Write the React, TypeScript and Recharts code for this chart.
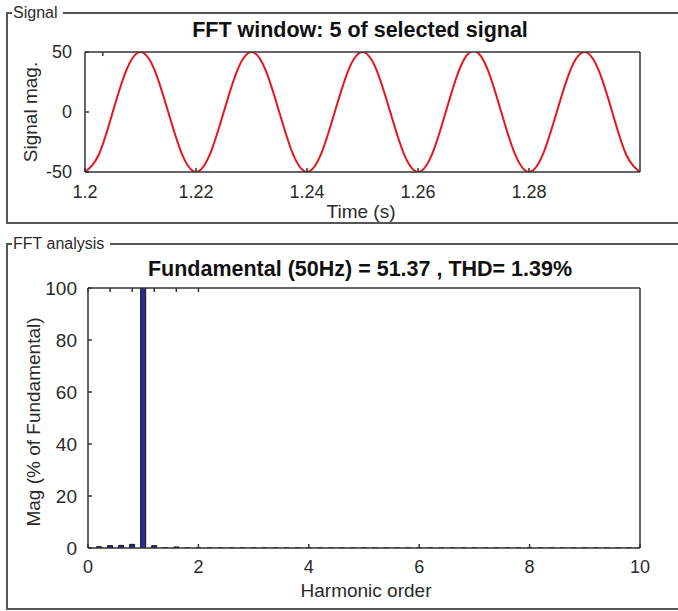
import { Bar, ComposedChart, Line, LineChart, XAxis, YAxis } from 'recharts';

// time axis of the FFT window (s)
const TIMES = [
    1.2, 1.2025, 1.205, 1.2075, 1.21, 1.2125, 1.215, 1.2175,
    1.22, 1.2225, 1.225, 1.2275, 1.23, 1.2325, 1.235, 1.2375,
    1.24, 1.2425, 1.245, 1.2475, 1.25, 1.2525, 1.255, 1.2575,
    1.26, 1.2625, 1.265, 1.2675, 1.27, 1.2725, 1.275, 1.2775,
    1.28, 1.2825, 1.285, 1.2875, 1.29, 1.2925, 1.295, 1.2975,
    1.3,
];

// signal samples
const SIGNAL = [
    -50, -35.4, 0, 35.4, 50, 35.4, 0, -35.4,
    -50, -35.4, 0, 35.4, 50, 35.4, 0, -35.4,
    -50, -35.4, 0, 35.4, 50, 35.4, 0, -35.4,
    -50, -35.6, 0, 36, 51, 36, 0, -35.4,
    -50, -35.4, 0, 35.4, 50, 35.4, 0, -35.4,
    -50,
];

const TIME_TICKS = [1.2, 1.22, 1.24, 1.26, 1.28];
const SIGNAL_TICKS = [-50, 0, 50];

// harmonic order bins (0.2 resolution) and magnitude in % of fundamental
const HARMONICS = [
    0, 0.2, 0.4, 0.6, 0.8, 1, 1.2, 1.4, 1.6, 1.8,
    2, 2.2, 2.4, 2.6, 2.8, 3, 3.2, 3.4, 3.6, 3.8,
    4, 4.2, 4.4, 4.6, 4.8, 5, 5.2, 5.4, 5.6, 5.8,
    6, 6.2, 6.4, 6.6, 6.8, 7, 7.2, 7.4, 7.6, 7.8,
    8, 8.2, 8.4, 8.6, 8.8, 9, 9.2, 9.4, 9.6, 9.8,
    10,
];
const MAGNITUDES = [
    0.2, 0.5, 0.9, 1.0, 1.4, 100, 0.9, 0.1, 0.4, 0.05,
    0.05, 0.05, 0.05, 0.05, 0.05, 0.05, 0.05, 0.05, 0.05, 0.05,
    0.05, 0.05, 0.05, 0.05, 0.05, 0.05, 0.05, 0.05, 0.05, 0.05,
    0.05, 0.05, 0.05, 0.05, 0.05, 0.05, 0.05, 0.05, 0.05, 0.05,
    0.05, 0.05, 0.05, 0.05, 0.05, 0.05, 0.05, 0.05, 0.05, 0.05,
    0.05,
];

const HARMONIC_TICKS = [0, 2, 4, 6, 8, 10];
const MAG_TICKS = [0, 20, 40, 60, 80, 100];

const FONT = '"Liberation Sans", Arial, sans-serif';
const AXIS = '#333';
const TEXT = '#2a2a2a';

const signalData = TIMES.map((t, i) => ({ t, v: SIGNAL[i] }));
const fftData = HARMONICS.map((h, i) => ({ h, mag: MAGNITUDES[i] }));

const tickStyle = { fontSize: 18, fill: TEXT, fontFamily: FONT };
const bigTickStyle = { fontSize: 19, fill: TEXT, fontFamily: FONT };
const blank = () => '';

function GroupBox({ top, height, label }: { top: number; height: number; label: string }) {
    return (
        <div
            style={{
                position: 'absolute',
                left: 6,
                top,
                width: 690,
                height,
                borderTop: '2px solid #555',
                borderLeft: '2px solid #555',
                borderBottom: '2px solid #555',
                boxSizing: 'border-box',
            }}
        >
            <span
                style={{
                    position: 'absolute',
                    left: 4,
                    top: -10,
                    background: '#fff',
                    padding: '0 6px 0 1px',
                    fontSize: 16,
                    lineHeight: '18px',
                    fontFamily: FONT,
                    color: TEXT,
                }}
            >
                {label}
            </span>
        </div>
    );
}

function TextAt({ x, y, children, size = 17, bold = false, rotate = false }: any) {
    return (
        <div
            style={{
                position: 'absolute',
                left: x,
                top: y,
                transform: `translate(-50%, -50%)${rotate ? ' rotate(-90deg)' : ''}`,
                whiteSpace: 'nowrap',
                fontFamily: FONT,
                fontSize: size,
                fontWeight: bold ? 700 : 400,
                color: bold ? '#111' : TEXT,
                lineHeight: 1,
            }}
        >
            {children}
        </div>
    );
}

export default function App() {
    return (
        <div style={{ position: 'absolute', left: 0, top: 0, width: 678, height: 611, background: '#fff', overflow: 'hidden' }}>
            <GroupBox top={12} height={212} label="Signal" />
            <GroupBox top={243} height={367} label="FFT analysis" />

            <div style={{ position: 'absolute', left: 0, top: 0 }}>
                <LineChart width={678} height={230} data={signalData} margin={{ top: 51, right: 37, bottom: 28, left: 25 }}>
                    <XAxis
                        dataKey="t"
                        type="number"
                        domain={[1.2, 1.3]}
                        ticks={TIME_TICKS}
                        height={30}
                        tickSize={-4}
                        tickMargin={17}
                        stroke={AXIS}
                        strokeWidth={1.5}
                        tick={tickStyle}
                        allowDataOverflow
                    />
                    <XAxis xAxisId="top" orientation="top" type="number" domain={[1.2, 1.3]} ticks={TIME_TICKS}
                        height={1} tickSize={-4} stroke={AXIS} strokeWidth={1.5} tickFormatter={blank} />
                    <YAxis
                        type="number"
                        domain={[-50, 50]}
                        ticks={SIGNAL_TICKS}
                        width={60}
                        tickSize={-4}
                        tickMargin={17}
                        stroke={AXIS}
                        strokeWidth={1.5}
                        tick={tickStyle}
                        allowDataOverflow
                    />
                    <YAxis yAxisId="right" orientation="right" type="number" domain={[-50, 50]} ticks={SIGNAL_TICKS}
                        width={1} tickSize={-4} stroke={AXIS} strokeWidth={1.5} tickFormatter={blank} />
                    <Line
                        dataKey="v"
                        type="natural"
                        stroke="#e8141c"
                        strokeWidth={2}
                        dot={false}
                        isAnimationActive={false}
                    />
                </LineChart>
            </div>

            <div style={{ position: 'absolute', left: 0, top: 240 }}>
                <ComposedChart width={678} height={370} data={fftData} margin={{ top: 47, right: 37, bottom: 32, left: 28 }}>
                    <XAxis
                        dataKey="h"
                        type="number"
                        domain={[0, 10]}
                        ticks={HARMONIC_TICKS}
                        height={30}
                        tickSize={-4}
                        tickMargin={16}
                        stroke={AXIS}
                        strokeWidth={1.5}
                        tick={tickStyle}
                        allowDataOverflow
                    />
                    <XAxis xAxisId="top" orientation="top" type="number" domain={[0, 10]} ticks={HARMONIC_TICKS}
                        height={1} tickSize={-4} stroke={AXIS} strokeWidth={1.5} tickFormatter={blank} />
                    <YAxis
                        type="number"
                        domain={[0, 100]}
                        ticks={MAG_TICKS}
                        width={60}
                        tickSize={-4}
                        tickMargin={15}
                        stroke={AXIS}
                        strokeWidth={1.5}
                        tick={bigTickStyle}
                        allowDataOverflow
                    />
                    <YAxis yAxisId="right" orientation="right" type="number" domain={[0, 100]} ticks={MAG_TICKS}
                        width={1} tickSize={-4} stroke={AXIS} strokeWidth={1.5} tickFormatter={blank} />
                    <Bar dataKey="mag" barSize={5} fill="#2a2a9c" stroke="#111" strokeWidth={1} isAnimationActive={false} />
                </ComposedChart>
            </div>

            <TextAt x={360} y={31} size={21.5} bold>FFT window: 5 of selected signal</TextAt>
            <TextAt x={30} y={112} size={19} rotate>Signal mag.</TextAt>
            <TextAt x={361} y={211} size={19}>Time (s)</TextAt>

            <TextAt x={360} y={270} size={21.5} bold>Fundamental (50Hz) = 51.37 , THD= 1.39%</TextAt>
            <TextAt x={33} y={422} size={19} rotate>Mag (% of Fundamental)</TextAt>
            <TextAt x={366} y={590} size={19}>Harmonic order</TextAt>
        </div>
    );
}
